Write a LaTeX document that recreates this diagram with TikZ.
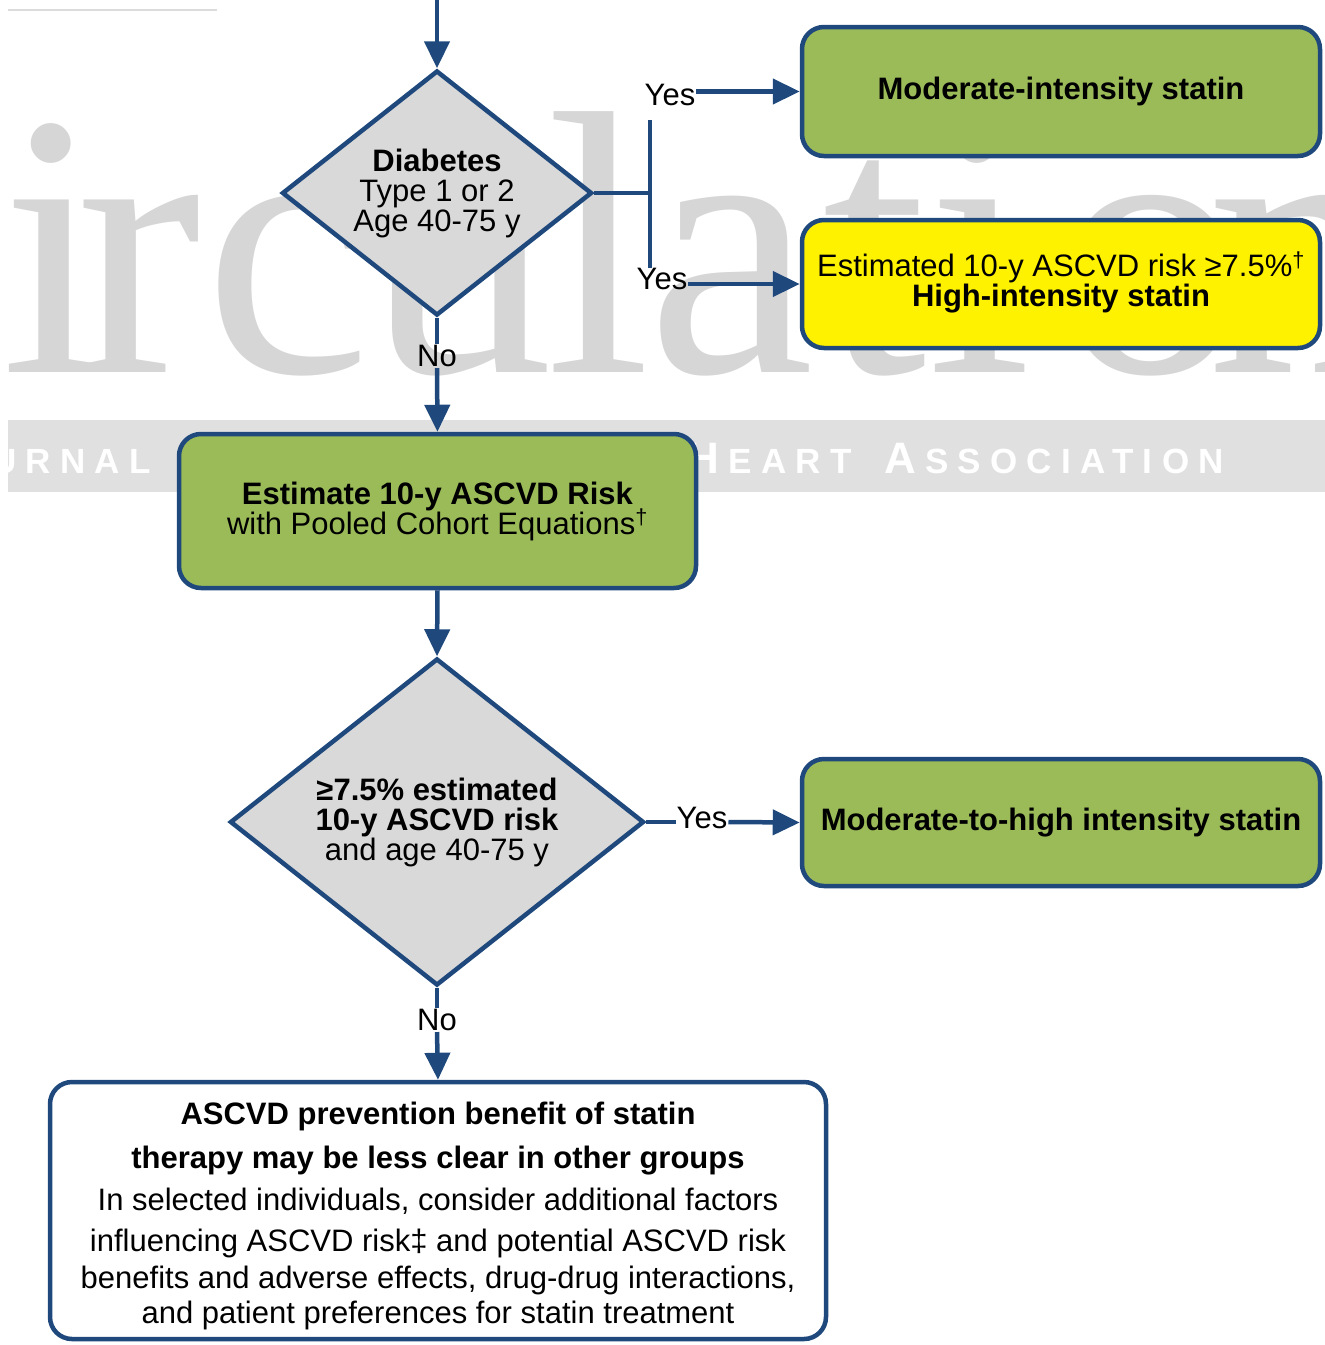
\documentclass[tikz,border=0pt]{standalone}
\usepackage{fontspec}
\setmainfont{Liberation Sans}
\newfontfamily\wmfont{Liberation Serif}
\newfontfamily\bandfont[LetterSpace=26.5,WordSpace=1.72]{Liberation Sans}
\usetikzlibrary{shapes.geometric,arrows.meta}

\definecolor{navy}{RGB}{31,73,125}
\definecolor{boxgreen}{RGB}{155,187,89}
\definecolor{dgrey}{RGB}{217,217,217}
\definecolor{wmgrey}{RGB}{214,214,214}
\definecolor{bandgrey}{RGB}{224,224,224}

% journal name in fake small capitals
\newcommand\bandsc[2]{{\fontsize{44}{44}\selectfont #1}\kern9pt#2}
% one letter of the watermark in a box of fixed advance
\newcommand\wml[2]{\makebox[#1pt][l]{#2}}

\tikzset{
  flow/.style={draw=navy, line width=4.5pt},
  arr/.style={flow, -{Triangle[length=27pt,width=25pt]}},
  txt/.style={font=\fontsize{31}{30}\selectfont, align=center},
  decision/.style={txt, diamond, draw=navy, line width=4.5pt, fill=dgrey,
    inner sep=0pt, aspect=1.26},
  stepbox/.style={txt, rectangle, rounded corners=22pt, draw=navy,
    line width=4.5pt, fill=boxgreen, minimum width=518pt, inner sep=0pt},
  lbl/.style={font=\fontsize{31}{30}\selectfont, inner sep=1pt},
}

\begin{document}
\begin{tikzpicture}[x=1pt, y=-1pt]
\useasboundingbox (0,0) rectangle (1325,1345);

% journal watermark behind the chart
\begin{scope}
  \clip (0,0) rectangle (1325,1345);
  \node[anchor=base west, inner sep=0pt, text=wmgrey] (wm) at (-240,372)
    {\wmfont\fontsize{376}{376}\selectfont
     \wml{241}{C}\wml{75}{i}\wml{128}{r}\wml{161}{c}\wml{181}{u}\wml{101}{l}%
     \wml{175}{a}\wml{105}{t}\wml{130}{i}\wml{150}{o}n};
  \fill[bandgrey] (8,420) rectangle (1325,492);
  \node[anchor=base east, inner sep=0pt, text=white] (band) at (1224,473)
    {\bandfont\bfseries\fontsize{35}{35}\selectfont
     \bandsc{J}{OURNAL} OF THE \bandsc{A}{MERICAN} \bandsc{H}{EART} \bandsc{A}{SSOCIATION}};
  \draw[black!14, line width=1.5pt] (8,10) -- (217,10);
\end{scope}

% decisions
\node[decision, minimum width=310pt, minimum height=245pt] (d1) at (437,193)
  {\textbf{Diabetes}\\Type 1 or 2\\Age 40-75 y};
\node[decision, minimum width=414pt, minimum height=327pt] (d2) at (437,822)
  {\textbf{≥7.5\% estimated}\\\textbf{10-y ASCVD risk}\\and age 40-75 y};

% outcome boxes
\node[stepbox, minimum height=129pt] (b1) at (1061,91.5)
  {\textbf{Moderate-intensity statin}};
\node[stepbox, fill=yellow, minimum height=128pt] (b2) at (1061,284)
  {Estimated 10-y ASCVD risk ≥7.5\%\smash{\textsuperscript{†}}\\\textbf{High-intensity statin}};
\node[stepbox, minimum width=517pt, minimum height=154pt] (b3) at (437.5,511)
  {\textbf{Estimate 10-y ASCVD Risk}\\with Pooled Cohort Equations\smash{\textsuperscript{†}}};
\node[stepbox, minimum height=127pt] (b4) at (1061,822.5)
  {\textbf{Moderate-to-high intensity statin}};
\node[stepbox, fill=white, minimum width=776pt, minimum height=257pt,
      font=\fontsize{31}{37}\selectfont] (b5) at (438,1210.5)
  {\rule{0pt}{33pt}\textbf{ASCVD prevention benefit of statin}\\[7pt]
   \textbf{therapy may be less clear in other groups}\\[5pt]
   In selected individuals, consider additional factors\\[4pt]
   influencing ASCVD risk‡ and potential ASCVD risk\\
   benefits and adverse effects, drug-drug interactions,\\[-2pt]
   and patient preferences for statin treatment};

% branch labels
\node[lbl] (yes1) at (670,95) {Yes};
\node[lbl] (yes2) at (662,279) {Yes};
\node[lbl] (no1) at (437,356) {No};
\node[lbl] (yes3) at (702,818) {Yes};
\node[lbl] (no2) at (437,1020) {No};

\coordinate (start) at (437,0);
\coordinate (jt) at (650,120);
\coordinate (jb) at (650,268);

% connectors
\draw[arr] (start) -- (d1.north);
\draw[flow] (d1.east) -- (d1.east -| jt);
\draw[flow] (jt) -- (jb);
\draw[arr] (yes1.east |- b1.west) -- (b1.west);
\draw[arr] (yes2.east |- b2.west) -- (b2.west);
\draw[flow] (d1.south) -- (no1.north);
\draw[arr] (no1.south) -- (b3.north);
\draw[arr] (b3.south) -- (d2.north);
\draw[flow] (d2.east) -- (d2.east -| yes3.west);
\draw[arr] (yes3.east |- d2.east) -- (b4.west);
\draw[flow] (d2.south) -- (no2.north);
\draw[arr] (no2.south) -- (b5.north);
\end{tikzpicture}
\end{document}
